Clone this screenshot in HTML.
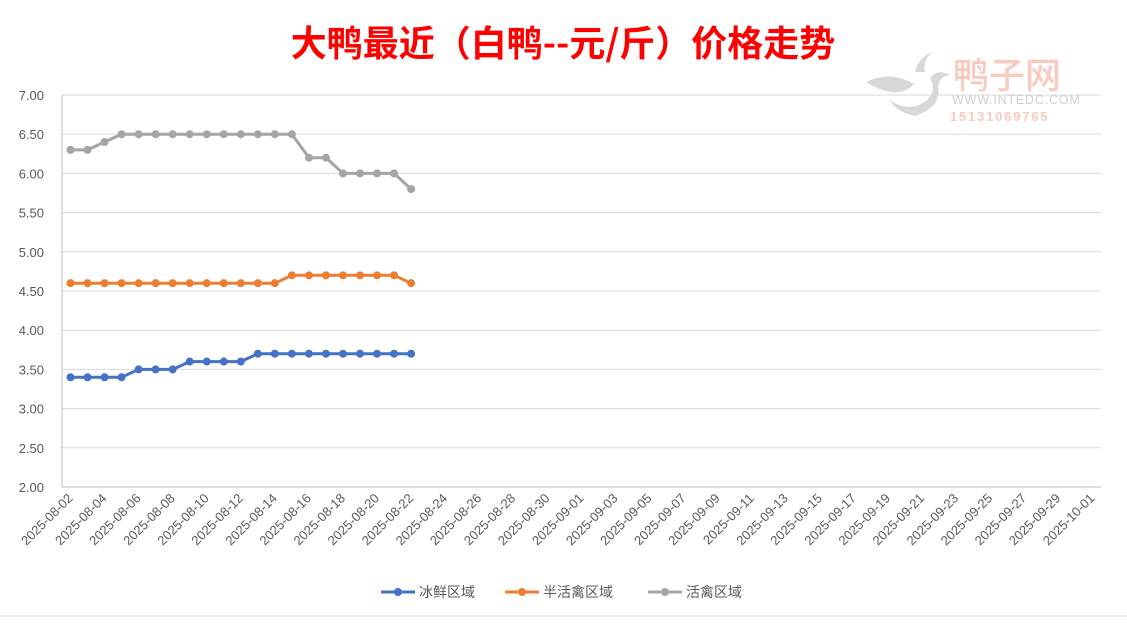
<!DOCTYPE html>
<html><head><meta charset="utf-8">
<style>
body{margin:0;background:#fff;width:1127px;height:619px;overflow:hidden;font-family:"Liberation Sans","Noto Sans CJK SC",sans-serif;}
</style></head><body>
<svg id="s" width="1127" height="619" xmlns="http://www.w3.org/2000/svg" font-family="Liberation Sans, Noto Sans CJK SC, sans-serif">
<rect x="0" y="0" width="1127" height="619" fill="#fff"/>
<line x1="0" y1="616" x2="1127" y2="616" stroke="#d9d9d9"/>
<text x="563" y="56" text-anchor="middle" font-size="36" font-weight="bold" fill="#ff0000" font-family="Noto Sans CJK SC, sans-serif">大鸭最近（白鸭--元/斤）价格走势</text>
<g opacity="0.7">
<path d="M866 82 Q890 70 914 84 Q905 94 890 92 Q878 90 866 82Z" fill="#c8c8c8"/>
<path d="M890 100 Q910 114 927 100 Q937 90 930 78 Q937 68 950 75 Q940 76 938 86 Q942 107 915 116 Q896 112 890 100Z" fill="#c8c8c8"/>
<path d="M915 72 Q918 58 932 52 Q922 62 925 72Z" fill="#c8c8c8"/>
<text x="953" y="88" font-size="36" font-weight="500" fill="#f7b4a2" font-family="Noto Sans CJK SC, sans-serif">鸭子网</text>
<text x="952" y="104" font-size="12.5" fill="#bbbbbb" letter-spacing="0.8">WWW.INTEDC.COM</text>
<text x="950" y="121" font-size="13" font-weight="bold" fill="#f7b4a2" letter-spacing="1.8">15131069765</text>
</g>
<g id="grid"></g>
<g id="data"></g>
<g font-size="14" fill="#595959">
<line x1="381" y1="592" x2="415" y2="592" stroke="#4472c4" stroke-width="3"/><circle cx="398" cy="592" r="4" fill="#4472c4"/>
<text x="419" y="597" font-family="Noto Sans CJK SC, sans-serif">冰鲜区域</text>
<line x1="505" y1="592" x2="539" y2="592" stroke="#ed7d31" stroke-width="3"/><circle cx="522" cy="592" r="4" fill="#ed7d31"/>
<text x="543" y="597" font-family="Noto Sans CJK SC, sans-serif">半活禽区域</text>
<line x1="648" y1="592" x2="682" y2="592" stroke="#a5a5a5" stroke-width="3"/><circle cx="665" cy="592" r="4" fill="#a5a5a5"/>
<text x="686" y="597" font-family="Noto Sans CJK SC, sans-serif">活禽区域</text>
</g>
</svg>
<script>
var NS="http://www.w3.org/2000/svg";
function el(t,a,p,txt){var e=document.createElementNS(NS,t);for(var k in a)e.setAttribute(k,a[k]);if(txt)e.textContent=txt;p.appendChild(e);return e;}
var g=document.getElementById("grid"),d=document.getElementById("data");
var y0=95,dy=39.2,x0=62,x1=1101,sp=17.03;
function Y(v){return y0+(7-v)/0.5*dy;}
for(var k=0;k<=10;k++){var y=y0+k*dy;var v=(7-k*0.5).toFixed(2);
 if(k<10)el("line",{x1:x0,y1:y,x2:x1,y2:y,stroke:"#d9d9d9"},g);
 el("text",{x:44,y:y+5,"text-anchor":"end","font-size":"13",fill:"#595959"},g,v);}
el("line",{x1:x0,y1:487,x2:x1,y2:487,stroke:"#bfbfbf"},g);
el("line",{x1:x0,y1:95,x2:x0,y2:487,stroke:"#bfbfbf"},g);
var start=new Date(Date.UTC(2025,7,2));
for(var i=0;i<61;i+=2){var dt=new Date(start.getTime()+i*864e5);
 var s=dt.getUTCFullYear()+"-"+String(dt.getUTCMonth()+1).padStart(2,"0")+"-"+String(dt.getUTCDate()).padStart(2,"0");
 var x=x0+8.5+i*sp;
 el("text",{x:x+3,y:499,"text-anchor":"end","font-size":"13",fill:"#595959",transform:"rotate(-45 "+(x+3)+" 499)"},g,s);}
var series=[
 {c:"#a5a5a5",v:[6.3,6.3,6.4,6.5,6.5,6.5,6.5,6.5,6.5,6.5,6.5,6.5,6.5,6.5,6.2,6.2,6.0,6.0,6.0,6.0,5.8]},
 {c:"#ed7d31",v:[4.6,4.6,4.6,4.6,4.6,4.6,4.6,4.6,4.6,4.6,4.6,4.6,4.6,4.7,4.7,4.7,4.7,4.7,4.7,4.7,4.6]},
 {c:"#4472c4",v:[3.4,3.4,3.4,3.4,3.5,3.5,3.5,3.6,3.6,3.6,3.6,3.7,3.7,3.7,3.7,3.7,3.7,3.7,3.7,3.7,3.7]}];
series.forEach(function(s){var pts=s.v.map(function(v,i){return (x0+8.5+i*sp).toFixed(1)+","+Y(v).toFixed(1);});
 el("polyline",{points:pts.join(" "),fill:"none",stroke:s.c,"stroke-width":"3","stroke-linejoin":"round"},d);
 s.v.forEach(function(v,i){el("circle",{cx:x0+8.5+i*sp,cy:Y(v),r:4,fill:s.c},d);});});
</script>
</body></html>
